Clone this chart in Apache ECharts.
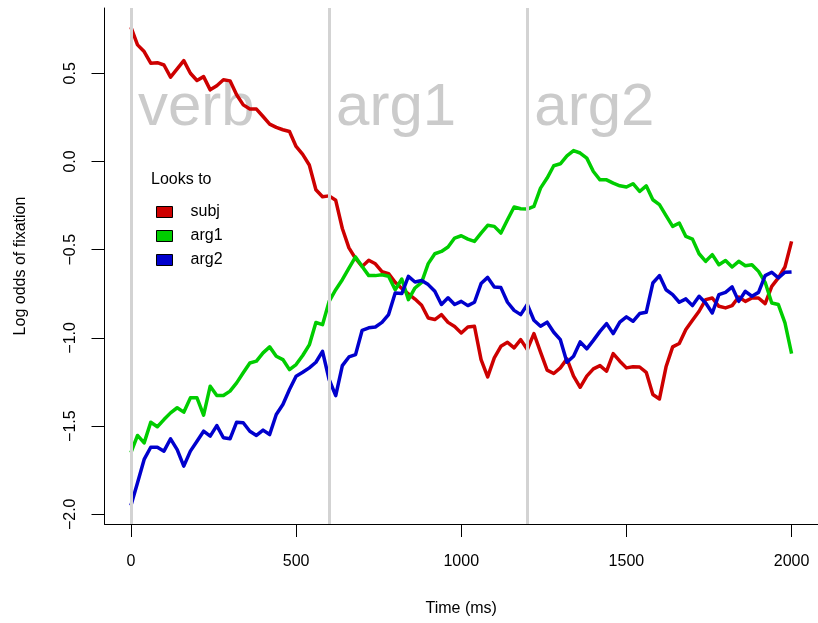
<!DOCTYPE html>
<html>
<head>
<meta charset="utf-8">
<script src="https://cdn.jsdelivr.net/npm/echarts@6/dist/echarts.min.js"></script>
<style>
  html, body { margin: 0; padding: 0; background: #fff; }
  #echart { width: 818px; height: 623px; }
</style>
</head>
<body>
<div id="echart"></div>
<script>
// sample times (ms)
const times = [
    0, 20, 40, 60, 80, 100, 120, 140, 160, 180, 200, 220, 240, 260, 280, 300, 320, 340, 360, 380,
    400, 420, 440, 460, 480, 500, 520, 540, 560, 580, 600, 620, 640, 660, 680, 700, 720, 740, 760, 780,
    800, 820, 840, 860, 880, 900, 920, 940, 960, 980, 1000, 1020, 1040, 1060, 1080, 1100, 1120, 1140, 1160, 1180,
    1200, 1220, 1240, 1260, 1280, 1300, 1320, 1340, 1360, 1380, 1400, 1420, 1440, 1460, 1480, 1500, 1520, 1540, 1560, 1580,
    1600, 1620, 1640, 1660, 1680, 1700, 1720, 1740, 1760, 1780, 1800, 1820, 1840, 1860, 1880, 1900, 1920, 1940, 1960, 1980,
    2000
];

// log odds, one value per sample time
const subj = [
    0.761, 0.661, 0.623, 0.557, 0.56, 0.547, 0.478, 0.525, 0.572, 0.50, 0.459, 0.481, 0.406, 0.429, 0.463, 0.457, 0.378, 0.321, 0.297, 0.297,
    0.255, 0.212, 0.193, 0.18, 0.17, 0.085, 0.04, -0.02, -0.16, -0.20, -0.195, -0.22, -0.38, -0.49, -0.55, -0.595, -0.56, -0.58, -0.625, -0.636,
    -0.685, -0.72, -0.75, -0.78, -0.815, -0.887, -0.896, -0.868, -0.912, -0.936, -0.972, -0.938, -0.934, -1.123, -1.221, -1.113, -1.048, -1.025, -1.057, -1.01,
    -1.066, -0.976, -1.081, -1.183, -1.202, -1.17, -1.119, -1.217, -1.28, -1.217, -1.176, -1.157, -1.189, -1.089, -1.132, -1.17, -1.164, -1.165, -1.195, -1.321,
    -1.346, -1.164, -1.051, -1.032, -0.953, -0.9, -0.849, -0.783, -0.774, -0.821, -0.83, -0.817, -0.768, -0.793, -0.774, -0.774, -0.806, -0.708, -0.66, -0.598,
    -0.453
];
const arg1 = [
    -1.651, -1.553, -1.595, -1.478, -1.504, -1.463, -1.425, -1.396, -1.421, -1.34, -1.34, -1.438, -1.274, -1.327, -1.327, -1.302, -1.255, -1.198, -1.142, -1.132,
    -1.085, -1.051, -1.104, -1.123, -1.18, -1.151, -1.10, -1.04, -0.913, -0.925, -0.793, -0.727, -0.67, -0.604, -0.541, -0.595, -0.647, -0.647, -0.642, -0.651,
    -0.727, -0.666, -0.783, -0.717, -0.685, -0.579, -0.523, -0.51, -0.485, -0.434, -0.421, -0.44, -0.453, -0.406, -0.362, -0.368, -0.406, -0.33, -0.258, -0.268,
    -0.27, -0.255, -0.151, -0.094, -0.024, -0.013, 0.032, 0.062, 0.048, 0.019, -0.057, -0.104, -0.104, -0.123, -0.138, -0.145, -0.126, -0.17, -0.138, -0.217,
    -0.245, -0.307, -0.368, -0.349, -0.425, -0.44, -0.523, -0.566, -0.528, -0.585, -0.561, -0.598, -0.566, -0.591, -0.585, -0.623, -0.685, -0.802, -0.811, -0.915,
    -1.089
];
const arg2 = [
    -1.95, -1.821, -1.689, -1.62, -1.62, -1.642, -1.572, -1.633, -1.727, -1.642, -1.586, -1.529, -1.557, -1.497, -1.566, -1.572, -1.478, -1.481, -1.529, -1.553,
    -1.523, -1.548, -1.434, -1.378, -1.293, -1.217, -1.195, -1.17, -1.138, -1.076, -1.236, -1.327, -1.157, -1.108, -1.095, -0.957, -0.943, -0.938, -0.912, -0.868,
    -0.745, -0.749, -0.651, -0.683, -0.675, -0.698, -0.736, -0.811, -0.773, -0.811, -0.793, -0.817, -0.798, -0.692, -0.657, -0.711, -0.715, -0.798, -0.844, -0.868,
    -0.811, -0.9, -0.934, -0.911, -0.968, -1.01, -1.138, -1.104, -1.023, -1.062, -1.014, -0.963, -0.919, -0.976, -0.911, -0.881, -0.906, -0.862, -0.855, -0.689,
    -0.647, -0.727, -0.755, -0.798, -0.779, -0.817, -0.764, -0.802, -0.859, -0.755, -0.742, -0.711, -0.793, -0.736, -0.764, -0.742, -0.647, -0.628, -0.66, -0.628,
    -0.626
];

const seriesNames = ['subj', 'arg1', 'arg2'];
const seriesColors = ['#CD0000', '#00CD00', '#0000CD'];

// word regions: onset (ms) and name
const regionStarts = [0, 600, 1200];
const regionNames = ['verb', 'arg1', 'arg2'];

const xTicks = [0, 500, 1000, 1500, 2000];
const yTicks = [-2.0, -1.5, -1.0, -0.5, 0.0, 0.5];

const FONT = 'Liberation Sans, Arial, Helvetica, sans-serif';

function pairUp(values) {
    return times.map((t, i) => [t, values[i]]);
}

function fmtY(v) {
    return (v < 0 ? '\u2212' : '') + Math.abs(v).toFixed(1);
}

const chart = echarts.init(document.getElementById('echart'), null, { renderer: 'canvas' });

const lineSeries = [subj, arg1, arg2].map((vals, i) => ({
    name: seriesNames[i],
    type: 'line',
    data: pairUp(vals),
    symbol: 'none',
    z: 3,
    lineStyle: { color: seriesColors[i], width: 3.5, join: 'round' },
    itemStyle: { color: seriesColors[i] }
}));

const option = {
    animation: false,
    backgroundColor: '#fff',
    textStyle: { fontFamily: FONT },
    title: {
        text: 'Looks to',
        left: 151,
        top: 172,
        padding: 0,
        textStyle: { fontFamily: FONT, fontSize: 16, fontWeight: 'normal', color: '#000' }
    },
    legend: {
        orient: 'vertical',
        left: 156,
        top: 204,
        padding: 0,
        itemWidth: 16,
        itemHeight: 11,
        itemGap: 8,
        icon: 'rect',
        selectedMode: false,
        data: seriesNames.map((n, i) => ({
            name: n,
            itemStyle: { color: seriesColors[i], borderColor: '#000', borderWidth: 1 }
        })),
        textStyle: { fontFamily: FONT, fontSize: 16, color: '#000', padding: [0, 0, 0, 13] }
    },
    grid: { left: 104.5, right: -2.5, top: 8, bottom: 99 },
    xAxis: {
        type: 'value',
        min: -80,
        max: 2080,
        name: 'Time (ms)',
        nameLocation: 'middle',
        nameGap: 77,
        nameTextStyle: { fontFamily: FONT, fontSize: 16, color: '#000' },
        splitLine: { show: false },
        axisLine: { show: true, onZero: false, lineStyle: { color: '#000', width: 1 } },
        axisTick: { show: true, customValues: xTicks, length: 13, lineStyle: { color: '#000' } },
        axisLabel: {
            customValues: xTicks,
            margin: 30,
            fontFamily: FONT,
            fontSize: 16,
            color: '#000',
            formatter: v => String(v)
        }
    },
    yAxis: {
        type: 'value',
        min: -2.055,
        max: 0.87,
        name: 'Log odds of fixation',
        nameLocation: 'middle',
        nameRotate: 90,
        nameGap: 76,
        nameTextStyle: { fontFamily: FONT, fontSize: 16, color: '#000' },
        splitLine: { show: false },
        axisLine: { show: true, onZero: false, lineStyle: { color: '#000', width: 1 } },
        axisTick: { show: true, customValues: yTicks, length: 13, lineStyle: { color: '#000' } },
        axisLabel: {
            customValues: yTicks,
            rotate: 90,
            margin: 26,
            fontFamily: FONT,
            fontSize: 16,
            color: '#000',
            formatter: fmtY
        }
    },
    series: [
        {
            // region boundaries and names
            type: 'scatter',
            name: 'regions',
            z: 1,
            silent: true,
            symbolSize: 0,
            data: regionStarts.map((t, i) => ({ value: [t, 0.30], name: regionNames[i] })),
            label: {
                show: true,
                position: [7, 0],
                align: 'left',
                verticalAlign: 'middle',
                formatter: '{b}',
                fontFamily: FONT,
                fontSize: 60,
                color: '#BEBEBE'
            },
            markLine: {
                silent: true,
                symbol: 'none',
                label: { show: false },
                lineStyle: { color: '#D3D3D3', width: 3, type: 'solid' },
                data: regionStarts.map(t => ({ xAxis: t }))
            }
        },
        ...lineSeries
    ]
};

chart.setOption(option);
</script>
</body>
</html>
